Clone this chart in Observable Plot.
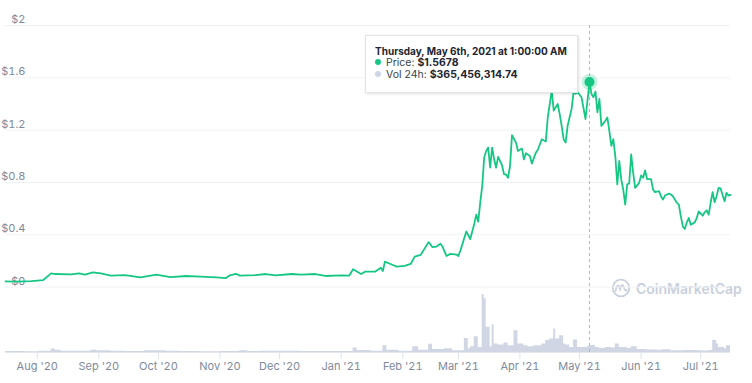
<!DOCTYPE html>
<html><head><meta charset="utf-8">
<script src="https://cdn.jsdelivr.net/npm/d3@7"></script>
<script src="https://cdn.jsdelivr.net/npm/@observablehq/plot@0.6"></script>
<style>
body{margin:0;background:#fff;font-family:Inter,"Open Sans",sans-serif;}
#wrap{position:relative;width:752px;height:383px;overflow:hidden;background:#fff;}
#wrap > svg, #wrap > figure{position:absolute;left:0;top:0;margin:0;}
#wm{position:absolute;left:611px;top:278px;display:flex;align-items:center;gap:5px;color:#c9d0dc;font:600 14px Inter,sans-serif;}
.tip{position:absolute;left:365px;top:35px;width:213px;height:58px;box-sizing:border-box;background:#fff;border:1px solid #e2e4e8;box-shadow:1px 1px 3px rgba(0,0,0,0.12);padding:9px 0 0 9px;font:10.5px Inter,sans-serif;color:#3d3f48;line-height:12px;white-space:nowrap;}
.tip .t1{font-weight:700;color:#222531;font-size:10px;}
.tip .dot{display:inline-block;width:6px;height:6px;border-radius:50%;margin-right:5px;vertical-align:1px;}
.tip b{font-weight:700;color:#222531;}
</style></head>
<body>
<div id="wrap"></div>
<script>
const priceDates = ["2020-07-16","2020-07-21","2020-07-29","2020-08-04","2020-08-08","2020-08-10","2020-08-18","2020-08-22","2020-08-25","2020-08-29","2020-09-02","2020-09-07","2020-09-14","2020-09-22","2020-09-30","2020-10-07","2020-10-15","2020-10-22","2020-10-30","2020-11-04","2020-11-06","2020-11-09","2020-11-11","2020-11-19","2020-11-24","2020-11-29","2020-12-07","2020-12-12","2020-12-19","2020-12-24","2021-01-01","2021-01-05","2021-01-07","2021-01-11","2021-01-13","2021-01-18","2021-01-21","2021-01-22","2021-01-23","2021-01-27","2021-01-29","2021-02-02","2021-02-05","2021-02-07","2021-02-10","2021-02-14","2021-02-16","2021-02-18","2021-02-20","2021-02-21","2021-02-23","2021-02-25","2021-02-28","2021-03-01","2021-03-02","2021-03-05","2021-03-07","2021-03-09","2021-03-10","2021-03-11","2021-03-12","2021-03-13","2021-03-14","2021-03-15","2021-03-16","2021-03-17","2021-03-18","2021-03-19","2021-03-20","2021-03-21","2021-03-23","2021-03-24","2021-03-25","2021-03-26","2021-03-27","2021-03-28","2021-03-30","2021-03-31","2021-04-02","2021-04-03","2021-04-04","2021-04-06","2021-04-07","2021-04-09","2021-04-10","2021-04-12","2021-04-14","2021-04-15","2021-04-17","2021-04-18","2021-04-20","2021-04-21","2021-04-22","2021-04-23","2021-04-24","2021-04-25","2021-04-27","2021-04-28","2021-04-29","2021-04-30","2021-05-02","2021-05-04","2021-05-06","2021-05-07","2021-05-08","2021-05-09","2021-05-10","2021-05-11","2021-05-12","2021-05-14","2021-05-15","2021-05-16","2021-05-17","2021-05-18","2021-05-19","2021-05-20","2021-05-21","2021-05-22","2021-05-23","2021-05-24","2021-05-25","2021-05-26","2021-05-27","2021-05-28","2021-05-29","2021-05-31","2021-06-01","2021-06-02","2021-06-03","2021-06-04","2021-06-06","2021-06-07","2021-06-08","2021-06-10","2021-06-11","2021-06-12","2021-06-13","2021-06-15","2021-06-16","2021-06-17","2021-06-19","2021-06-20","2021-06-21","2021-06-22","2021-06-23","2021-06-24","2021-06-25","2021-06-26","2021-06-28","2021-06-29","2021-06-30","2021-07-02","2021-07-03","2021-07-04","2021-07-05","2021-07-06","2021-07-07","2021-07-08","2021-07-09","2021-07-10","2021-07-11","2021-07-13","2021-07-14","2021-07-15","2021-07-16"];
const priceValues = [0.044,0.042,0.046,0.054,0.105,0.100,0.098,0.105,0.096,0.113,0.105,0.087,0.092,0.075,0.095,0.077,0.085,0.080,0.075,0.069,0.090,0.102,0.088,0.092,0.100,0.090,0.100,0.095,0.100,0.085,0.090,0.087,0.136,0.100,0.118,0.118,0.148,0.123,0.195,0.169,0.156,0.162,0.177,0.233,0.246,0.344,0.305,0.310,0.331,0.310,0.238,0.254,0.249,0.238,0.279,0.425,0.367,0.485,0.554,0.500,0.646,0.772,0.990,1.040,1.067,0.913,1.067,0.977,0.913,0.995,0.930,0.862,0.862,0.836,0.926,1.162,1.105,1.041,1.059,0.977,1.023,1.003,0.944,1.028,1.050,1.130,1.113,1.297,1.502,1.349,1.400,1.323,1.233,1.130,1.105,1.233,1.362,1.490,1.477,1.490,1.451,1.285,1.5678,1.477,1.451,1.495,1.336,1.438,1.233,1.272,1.297,1.195,1.079,1.131,1.002,0.785,0.964,0.823,0.746,0.631,0.785,0.792,1.015,0.874,0.759,0.797,0.854,0.836,0.892,0.826,0.826,0.746,0.726,0.733,0.695,0.669,0.700,0.715,0.708,0.695,0.644,0.631,0.541,0.464,0.444,0.495,0.528,0.477,0.495,0.528,0.579,0.546,0.572,0.587,0.554,0.644,0.726,0.649,0.695,0.759,0.754,0.656,0.721,0.700,0.705];

const volumeDates = ["2020-07-16","2020-07-21","2020-07-26","2020-08-02","2020-08-08","2020-08-10","2020-08-13","2020-08-20","2020-08-28","2020-08-31","2020-09-07","2020-09-15","2020-09-24","2020-09-30","2020-10-05","2020-10-12","2020-10-22","2020-11-01","2020-11-11","2020-11-15","2020-11-21","2020-12-03","2020-12-12","2020-12-24","2021-01-01","2021-01-07","2021-01-09","2021-01-16","2021-01-22","2021-01-24","2021-01-30","2021-02-06","2021-02-09","2021-02-14","2021-02-16","2021-02-22","2021-02-26","2021-03-04","2021-03-06","2021-03-07","2021-03-09","2021-03-11","2021-03-13","2021-03-14","2021-03-15","2021-03-16","2021-03-17","2021-03-18","2021-03-19","2021-03-21","2021-03-24","2021-03-26","2021-03-29","2021-03-31","2021-04-03","2021-04-05","2021-04-08","2021-04-12","2021-04-14","2021-04-16","2021-04-18","2021-04-19","2021-04-21","2021-04-23","2021-04-24","2021-04-26","2021-04-28","2021-04-30","2021-05-03","2021-05-05","2021-05-06","2021-05-09","2021-05-11","2021-05-14","2021-05-17","2021-05-19","2021-05-21","2021-05-25","2021-05-27","2021-05-30","2021-06-04","2021-06-09","2021-06-12","2021-06-16","2021-06-23","2021-06-29","2021-07-02","2021-07-05","2021-07-07","2021-07-09","2021-07-10","2021-07-13","2021-07-14","2021-07-16"];
const volumeValues = [50e6,50e6,40e6,60e6,175e6,120e6,70e6,60e6,120e6,90e6,60e6,50e6,90e6,90e6,60e6,50e6,40e6,50e6,90e6,50e6,60e6,60e6,50e6,50e6,50e6,230e6,100e6,60e6,350e6,120e6,70e6,300e6,120e6,430e6,150e6,190e6,90e6,730e6,200e6,300e6,820e6,260e6,3.0e9,2.78e9,1.3e9,1.3e9,300e6,1.43e9,440e6,385e6,490e6,350e6,1.13e9,440e6,350e6,300e6,350e6,440e6,620e6,700e6,1.22e9,700e6,870e6,440e6,385e6,260e6,650e6,260e6,260e6,310e6,365e6,260e6,210e6,260e6,230e6,440e6,260e6,210e6,300e6,150e6,130e6,110e6,140e6,90e6,100e6,90e6,80e6,100e6,620e6,440e6,260e6,190e6,350e6,350e6];

const yTicks = [0, 0.4, 0.8, 1.2, 1.6, 2];
const xTickMonths = ["2020-08-01","2020-09-01","2020-10-01","2020-11-01","2020-12-01","2021-01-01","2021-02-01","2021-03-01","2021-04-01","2021-05-01","2021-06-01","2021-07-01"];
const xDomain = ["2020-07-16","2021-07-16"];
const hoverDate = "2021-05-06";
const hoverPrice = 1.5678;
const hoverVolume = 365456314.74;
const hoverLabel = "Thursday, May 6th, 2021 at 1:00:00 AM";

const price = priceDates.map((d, i) => ({date: new Date(d), price: priceValues[i]}));
const volume = volumeDates.map((d, i) => ({date: new Date(d), vol: volumeValues[i]}));
const hover = [{date: new Date(hoverDate), price: hoverPrice}];
const dom = xDomain.map(d => new Date(d));
const font = {background: "transparent", color: "#808a9d", fontFamily: "Inter, sans-serif", fontSize: "11px", overflow: "visible"};

const volPlot = Plot.plot({
  width: 752, height: 383,
  marginLeft: 5, marginRight: 22, marginTop: 294, marginBottom: 31,
  style: font,
  x: {type: "utc", domain: dom, label: null},
  y: {domain: [0, 3.0e9], axis: null, label: null},
  marks: [
    Plot.areaY(volume, {x: "date", y: "vol", curve: "step-after", fill: "#d0d6e4"}),
    Plot.ruleY([0], {stroke: "#e3e7ee"}),
    Plot.axisX(xTickMonths.map(d => new Date(d)), {tickSize: 7, tickPadding: 3, tickFormat: d3.utcFormat("%b '%y"), stroke: "#dfe3ea", fill: "#808a9d", label: null})
  ]
});

const pricePlot = Plot.plot({
  width: 752, height: 383,
  marginLeft: 5, marginRight: 22, marginTop: 25, marginBottom: 31,
  style: font,
  x: {type: "utc", domain: dom, axis: null, label: null},
  y: {domain: [-0.5, 2], label: null},
  marks: [
    Plot.ruleY(yTicks, {stroke: "#eff2f5"}),
    Plot.axisY(yTicks, {anchor: "left", tickSize: 0, tickPadding: 0, dx: 20, dy: -6, tickFormat: d => "$" + d, fill: "#808a9d", label: null}),
    Plot.ruleX(hover, {x: "date", stroke: "#aeb6c6", strokeDasharray: "3,3"}),
    Plot.line(price, {x: "date", y: "price", stroke: "#16c784", strokeWidth: 1.8}),
    Plot.dot(hover, {x: "date", y: "price", r: 8, fill: "#16c784", fillOpacity: 0.25}),
    Plot.dot(hover, {x: "date", y: "price", r: 5, fill: "#16c784"})
  ]
});

const wrap = document.getElementById("wrap");
wrap.appendChild(volPlot);
const wm = document.createElement("div");
wm.id = "wm";
wm.innerHTML = '<svg width="20" height="20" viewBox="0 0 20 20"><circle cx="10" cy="10" r="8.3" fill="none" stroke="#c9d0dc" stroke-width="1.8"/><path d="M4.5 13 C6 6,7.5 6,9 11 C10.5 6,12 6,13.5 11 C14 12.5,15 13,15.8 12" fill="none" stroke="#c9d0dc" stroke-width="1.8" stroke-linecap="round"/></svg><span>CoinMarketCap</span>';
wrap.appendChild(wm);
wrap.appendChild(pricePlot);

const tip = document.createElement("div");
tip.className = "tip";
tip.innerHTML = '<div class="t1">' + hoverLabel + '</div>' +
  '<div><span class="dot" style="background:#16c784"></span>Price: <b>$' + hoverPrice + '</b></div>' +
  '<div><span class="dot" style="background:#cfd6e4"></span>Vol 24h: <b>$' + d3.format(",.2f")(hoverVolume) + '</b></div>';
wrap.appendChild(tip);
</script>
</body></html>
